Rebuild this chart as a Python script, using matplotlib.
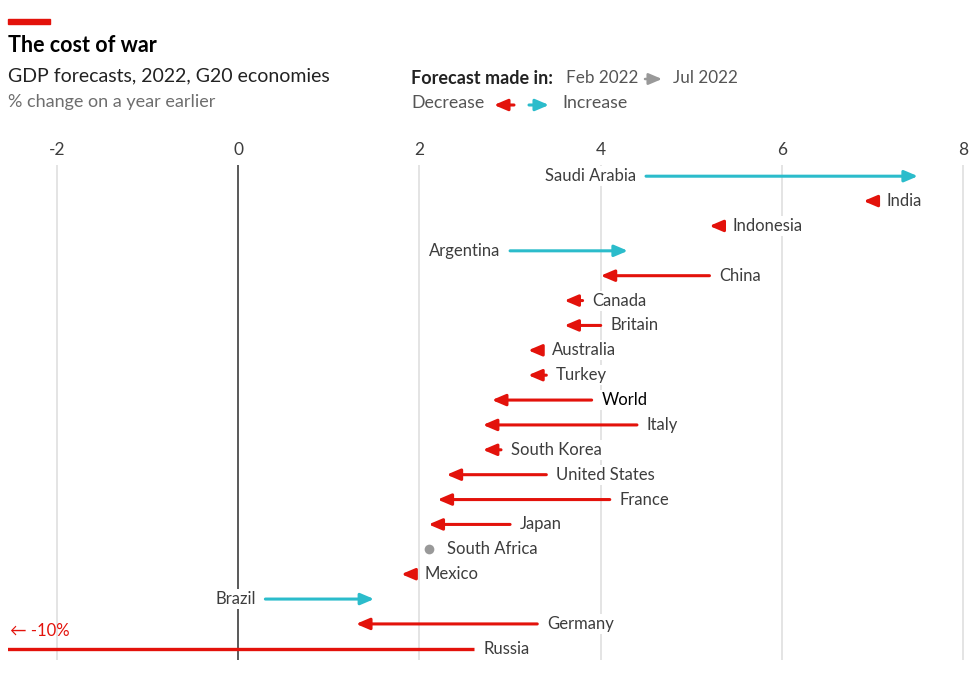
import matplotlib
matplotlib.use("Agg")
import matplotlib.pyplot as plt
from matplotlib.patches import Rectangle, FancyArrowPatch

plt.rcParams["font.family"] = ["Lato", "DejaVu Sans"]

countries = ["Saudi Arabia", "India", "Indonesia", "Argentina", "China", "Canada",
             "Britain", "Australia", "Turkey", "World", "Italy", "South Korea",
             "United States", "France", "Japan", "South Africa", "Mexico", "Brazil",
             "Germany", "Russia"]
feb = [4.5, 7.05, 5.35, 3.0, 5.2, 3.8, 4.0, 3.35, 3.4, 3.9, 4.4, 2.9,
       3.4, 4.1, 3.0, 2.1, 1.95, 0.3, 3.3, 2.6]
jul = [7.5, 6.9, 5.2, 4.3, 4.0, 3.6, 3.6, 3.2, 3.2, 2.8, 2.7, 2.7,
       2.3, 2.2, 2.1, 2.1, 1.8, 1.5, 1.3, -10]
xticks = [-2, 0, 2, 4, 6, 8]

RED = "#e3120b"
CYAN = "#2bbccb"
TXT = "#3d3d3d"
W, H = 975, 693
HEAD = "-|>,head_length=0.8,head_width=0.34"


def fx(x):
    return x / W


def fy(y):
    return 1 - y / H


fig = plt.figure(figsize=(9.75, 6.93), dpi=100)
ax = fig.add_axes([fx(8), fy(660), (975 - 8) / W, (660 - 165) / H])
ax.set_xlim(-2.54, 8.13)
ax.set_ylim(19.45, -0.45)

for s in ax.spines.values():
    s.set_visible(False)
ax.set_yticks([])
ax.set_xticks(xticks)
ax.set_xticklabels([str(t) for t in xticks])
ax.xaxis.tick_top()
ax.tick_params(axis="x", length=0, pad=5, labelsize=12.5, labelcolor=TXT)

for t in xticks:
    if t == 0:
        ax.axvline(t, color="#595959", lw=1.4, zorder=1)
    else:
        ax.axvline(t, color="#dcdcdc", lw=1.1, zorder=0.5)

for i, name in enumerate(countries):
    a, b = feb[i], jul[i]
    if name == "Russia":
        ax.plot([a, b], [i, i], color=RED, lw=2.4, solid_capstyle="butt", zorder=4)
    elif a == b:
        ax.plot(a, i, "o", color="#999999", ms=7, mec="none", zorder=4)
    else:
        col = RED if b < a else CYAN
        ax.annotate("", xy=(b, i), xytext=(a, i),
                    arrowprops=dict(arrowstyle=HEAD, color=col, lw=2.2,
                                    shrinkA=0, shrinkB=0, mutation_scale=10),
                    zorder=4)
    off = 7
    if a == b:
        off = 13
    if b > a:
        ha, dx = "right", -off
    else:
        ha, dx = "left", off
    ax.annotate(name, xy=(a, i), xytext=(dx, 0), textcoords="offset points",
                ha=ha, va="center", fontsize=12,
                color="black" if name == "World" else TXT,
                bbox=dict(facecolor="white", edgecolor="none", pad=1.5),
                zorder=3)

# off-scale note for Russia
fig.text(fx(10), fy(631), "\u2190 -10%", color=RED, fontsize=12, va="center")

# header
fig.add_artist(Rectangle((fx(8), fy(24)), 42 / W, 5 / H, color=RED,
                         transform=fig.transFigure))
fig.text(fx(8), fy(45), "The cost of war", fontsize=15.5, fontweight="bold",
         color="black", va="center")
fig.text(fx(8), fy(76), "GDP forecasts, 2022, G20 economies", fontsize=14,
         color="#222222", va="center")
fig.text(fx(8), fy(102), "% change on a year earlier", fontsize=13,
         color="#6e6e6e", va="center")

# legend
fig.text(fx(411), fy(78), "Forecast made in:", fontsize=13, fontweight="bold",
         color="#222222", va="center")
fig.text(fx(566), fy(78), "Feb 2022", fontsize=12.3, color="#555555", va="center")
fig.text(fx(673), fy(78), "Jul 2022", fontsize=12.3, color="#555555", va="center")
fig.text(fx(411), fy(103), "Decrease", fontsize=12.8, color="#555555", va="center")
fig.text(fx(562), fy(103), "Increase", fontsize=12.8, color="#555555", va="center")


def legend_arrow(x0, x1, y, col, lw):
    fig.add_artist(FancyArrowPatch((fx(x0), fy(y)), (fx(x1), fy(y)),
                                   transform=fig.transFigure,
                                   arrowstyle=HEAD, mutation_scale=10,
                                   color=col, lw=lw, shrinkA=0, shrinkB=0))


legend_arrow(645, 662, 79, "#999999", 1.8)
legend_arrow(514, 494, 105, RED, 2.2)
legend_arrow(529, 549, 105, CYAN, 2.2)

fig.savefig("out.png", dpi=100)
